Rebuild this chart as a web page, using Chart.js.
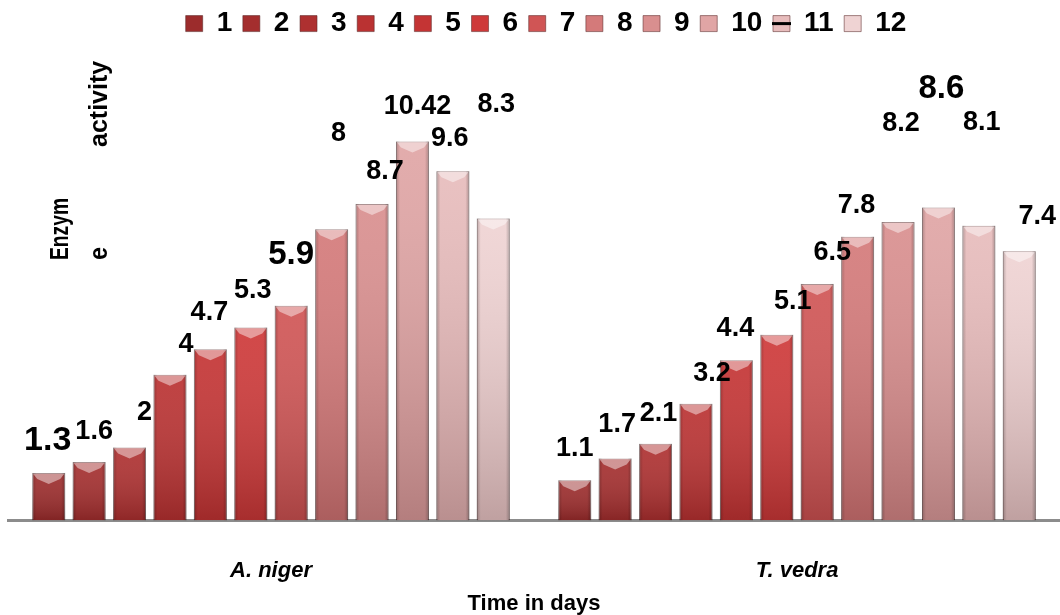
<!DOCTYPE html>
<html>
<head>
<meta charset="utf-8">
<script src="https://cdn.jsdelivr.net/npm/chart.js@4.4.1/dist/chart.umd.min.js"></script>
<style>
  body { margin: 0; background: #fff; }
  #wrap { width: 1060px; height: 615px; }
</style>
</head>
<body>
<div id="wrap"><canvas id="chart"></canvas></div>
<script>
// data
var fungi = ['A. niger', 'T. vedra'];
var days = ['1', '2', '3', '4', '5', '6', '7', '8', '9', '10', '11', '12'];
var nigerValues = [1.3, 1.6, 2, 4, 4.7, 5.3, 5.9, 8, 8.7, 10.42, 9.6, 8.3];
var vedraValues = [1.1, 1.7, 2.1, 3.2, 4.4, 5.1, 6.5, 7.8, 8.2, 8.6, 8.1, 7.4];

// styling
var barColors = ['#9c2c2c', '#a42e2e', '#ae3030', '#ba3232', '#c43434', '#ce3939',
                 '#d05555', '#d47a7a', '#d98f8f', '#e0a5a5', '#e7bcbc', '#efd3d3'];
var fontFam = "'Liberation Sans', Arial, sans-serif";

// where each value label sits, relative to the top centre of its bar [dx, dy, size]
var nigerLabelPos = [[-1, -32, 34], [5, -30, 27], [15, -35, 27], [16, -30, 27], [-1, -37, 27], [2, -37, 27],
                     [0, -51, 33], [7, -96, 27], [13, -32, 27], [5, -35, 27], [-3, -33, 27], [3, -114, 27]];
var vedraLabelPos = [[0, -32, 27], [2, -34, 27], [3, -30, 27], [16, -30, 27], [-1, -32, 27], [16, -33, 27],
                     [15, -31, 27], [-1, -31, 27], [3, -99, 27], [3, -119, 33], [3, -103, 27], [18, -35, 27]];

var datasets = [];
for (var i = 0; i < days.length; i++) {
    datasets.push({
        label: days[i],
        data: [nigerValues[i], vedraValues[i]],
        backgroundColor: barColors[i],
        borderColor: 'rgba(90,40,40,0.55)',
        borderWidth: 1,
        categoryPercentage: 0.922,
        barPercentage: 0.815
    });
}

// bevel / shading on each bar
var bevelPlugin = {
    id: 'bevel',
    afterLayout: function(chart) {
        // the legend sits a little right of centre in the original
        chart.legend.left += 12;
        chart.legend.right += 12;
    },
    afterDatasetsDraw: function(chart) {
        var ctx = chart.ctx;
        chart.data.datasets.forEach(function(ds, di) {
            var meta = chart.getDatasetMeta(di);
            meta.data.forEach(function(bar) {
                var p = bar.getProps(['x', 'y', 'base', 'width'], true);
                var left = p.x - p.width / 2, right = p.x + p.width / 2;
                var h = p.base - p.y;
                ctx.save();
                var gv = ctx.createLinearGradient(0, p.y, 0, p.base);
                gv.addColorStop(0, 'rgba(255,255,255,0.08)');
                gv.addColorStop(1, 'rgba(50,10,10,0.25)');
                ctx.fillStyle = gv;
                ctx.fillRect(left, p.y, p.width, h);
                var gh = ctx.createLinearGradient(left, 0, right, 0);
                gh.addColorStop(0, 'rgba(0,0,0,0.22)');
                gh.addColorStop(0.12, 'rgba(0,0,0,0)');
                gh.addColorStop(0.88, 'rgba(0,0,0,0)');
                gh.addColorStop(1, 'rgba(0,0,0,0.25)');
                ctx.fillStyle = gh;
                ctx.fillRect(left, p.y, p.width, h);
                // top chevron
                ctx.beginPath();
                ctx.moveTo(left + 1, p.y + 1);
                ctx.lineTo(right - 1, p.y + 1);
                ctx.lineTo(right - 5, p.y + 6);
                ctx.lineTo(p.x, p.y + 11);
                ctx.lineTo(left + 5, p.y + 6);
                ctx.closePath();
                ctx.fillStyle = 'rgba(255,255,255,0.45)';
                ctx.fill();
                ctx.restore();
            });
        });
    }
};

// value labels
var labelPlugin = {
    id: 'valueLabels',
    afterDatasetsDraw: function(chart) {
        var ctx = chart.ctx;
        var positions = [nigerLabelPos, vedraLabelPos];
        ctx.save();
        ctx.fillStyle = '#000';
        ctx.textAlign = 'center';
        ctx.textBaseline = 'middle';
        chart.data.datasets.forEach(function(ds, di) {
            var meta = chart.getDatasetMeta(di);
            meta.data.forEach(function(bar, ci) {
                var pos = positions[ci][di];
                ctx.font = 'bold ' + pos[2] + 'px ' + fontFam;
                ctx.fillText(String(ds.data[ci]), bar.x + pos[0], bar.y + pos[1]);
            });
        });
        ctx.restore();
    }
};

// broken y axis title as in the original, plus the dash over legend item 11
var extrasPlugin = {
    id: 'extras',
    afterDraw: function(chart) {
        var ctx = chart.ctx;
        ctx.save();
        ctx.fillStyle = '#000';
        ctx.textBaseline = 'middle';
        ctx.textAlign = 'left';
        // text, x, y (start of text), max length
        var parts = [['activity', 100, 147, 89], ['Enzym', 61, 260, 62], ['e', 100, 260, 13]];
        ctx.font = 'bold 25px ' + fontFam;
        parts.forEach(function(p) {
            ctx.save();
            ctx.translate(p[1], p[2]);
            ctx.rotate(-Math.PI / 2);
            ctx.fillText(p[0], 0, 0, p[3]);
            ctx.restore();
        });
        var hb = chart.legend.legendHitBoxes[10];
        if (hb) {
            ctx.strokeStyle = '#000';
            ctx.lineWidth = 3;
            ctx.beginPath();
            ctx.moveTo(hb.left - 1, hb.top + hb.height / 2);
            ctx.lineTo(hb.left + 18, hb.top + hb.height / 2);
            ctx.stroke();
        }
        ctx.restore();
    }
};

var chart = new Chart(document.getElementById('chart'), {
    type: 'bar',
    data: {
        labels: fungi,
        datasets: datasets
    },
    options: {
        responsive: true,
        maintainAspectRatio: false,
        animation: false,
        layout: { padding: { left: 8, right: 0, top: -1, bottom: -2 } },
        plugins: {
            legend: {
                position: 'top',
                labels: {
                    boxWidth: 17,
                    boxHeight: 16,
                    padding: 10.6,
                    color: '#000',
                    font: { family: fontFam, size: 28, weight: 'bold' }
                }
            },
            tooltip: { enabled: false }
        },
        scales: {
            x: {
                grid: { display: false, drawTicks: false },
                border: { display: true, color: '#8c8c8c', width: 3 },
                ticks: {
                    padding: 38,
                    color: '#000',
                    font: { family: fontFam, size: 22, weight: 'bold', style: 'italic' }
                },
                title: {
                    display: true,
                    text: 'Time in days',
                    color: '#000',
                    padding: { top: -32, bottom: 0 },
                    font: { family: fontFam, size: 22, weight: 'bold' }
                }
            },
            y: {
                display: false,
                min: 0,
                max: 13
            }
        }
    },
    plugins: [bevelPlugin, labelPlugin, extrasPlugin]
});
</script>
</body>
</html>
